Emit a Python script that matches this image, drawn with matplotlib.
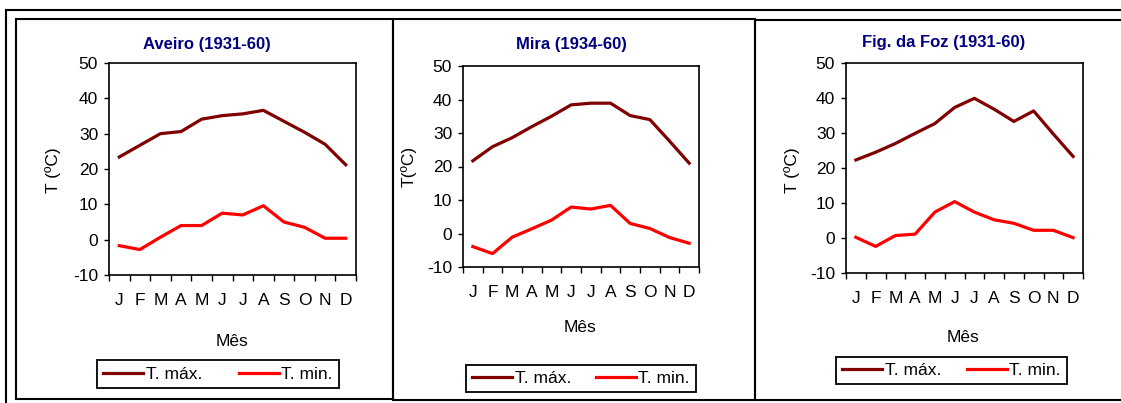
import matplotlib.pyplot as plt
from matplotlib.patches import Rectangle
from matplotlib.lines import Line2D

plt.rcParams['font.family'] = ['Liberation Sans', 'DejaVu Sans']
plt.rcParams['axes.unicode_minus'] = False

W, H = 1121, 403

meses = ['J', 'F', 'M', 'A', 'M', 'J', 'J', 'A', 'S', 'O', 'N', 'D']

aveiro_max = [23.4, 26.7, 30.0, 30.6, 34.1, 35.1, 35.6, 36.6, 33.5, 30.4, 27.0, 21.2]
aveiro_min = [-1.7, -2.8, 0.7, 4.0, 4.0, 7.5, 7.0, 9.6, 5.0, 3.5, 0.4, 0.4]

mira_max = [21.7, 25.9, 28.6, 31.9, 35.0, 38.4, 38.9, 38.9, 35.2, 34.0, 27.6, 21.0]
mira_min = [-3.9, -6.0, -1.1, 1.4, 4.0, 7.9, 7.3, 8.4, 3.0, 1.5, -1.2, -2.9]

foz_max = [22.3, 24.5, 27.0, 29.9, 32.7, 37.3, 39.9, 36.8, 33.3, 36.3, 29.7, 23.3]
foz_min = [0.2, -2.4, 0.7, 1.1, 7.4, 10.4, 7.4, 5.2, 4.2, 2.2, 2.2, 0.1]

titulos = ['Aveiro (1931-60)', 'Mira (1934-60)', 'Fig. da Foz (1931-60)']
ylabels = ['T (ºC)', 'T(ºC)', 'T (ºC)']
series = [(aveiro_max, aveiro_min), (mira_max, mira_min), (foz_max, foz_min)]

# layout in pixels: axes box (left, top, right, bottom), title, ylabel, xlabel, legend box
axes_px = [(109, 63, 356, 275), (463, 66, 699, 267), (846, 63, 1083, 273)]
title_px = [(207, 45), (571, 45), (944, 42)]
ylab_px = [(53, 170), (409, 166), (792, 170)]
xlab_px = [(232, 341), (580, 328), (963, 338)]
leg_px = [(97, 357, 339, 391), (466, 361, 696, 396), (836, 353, 1067, 388)]

FS = 12.5


def fx(x):
    return x / W


def fy(y):
    return 1 - y / H


fig = plt.figure(figsize=(W / 100, H / 100), dpi=100)

# frames
frame_kw = dict(color='black', lw=1.5, transform=fig.transFigure)
fig.add_artist(Line2D([fx(6), fx(W)], [fy(10), fy(10)], **frame_kw))
fig.add_artist(Line2D([fx(6), fx(6)], [fy(10), fy(H)], **frame_kw))
for x0, y0, x1, y1 in [(16, 19, 393, 399), (393, 19, 755, 400), (755, 20, W + 5, 400)]:
    fig.add_artist(Rectangle((fx(x0), fy(y1)), fx(x1 - x0), (y1 - y0) / H,
                             fill=False, ec='black', lw=1.5, transform=fig.transFigure))

x = list(range(12))
for i in range(3):
    l, t, r, b = axes_px[i]
    ax = fig.add_axes([fx(l), fy(b), fx(r - l), (b - t) / H])
    tmax, tmin = series[i]
    ax.plot(x, tmax, color='#800000', lw=2.3, label='T. máx.', solid_joinstyle='round')
    ax.plot(x, tmin, color='#FF0000', lw=2.3, label='T. min.', solid_joinstyle='round')
    ax.set_xlim(-0.5, 11.5)
    ax.set_ylim(-10, 50)
    ax.set_yticks(range(-10, 51, 10))
    ax.set_xticks([k - 0.5 for k in range(13)])
    ax.set_xticklabels([])
    ax.set_xticks(x, minor=True)
    ax.set_xticklabels(meses, minor=True)
    ax.tick_params(axis='x', which='major', direction='out', length=4.5, width=1)
    ax.tick_params(axis='x', which='minor', length=0, pad=13, labelsize=FS)
    ax.tick_params(axis='y', direction='out', length=3.8, width=1, pad=4, labelsize=FS)
    for s in ax.spines.values():
        s.set_linewidth(1.2)
        s.set_color('black')

    fig.text(fx(title_px[i][0]), fy(title_px[i][1]), titulos[i], ha='center', va='center',
             fontsize=12, fontweight='bold', color='#000080')
    fig.text(fx(ylab_px[i][0]), fy(ylab_px[i][1]), ylabels[i], rotation=90,
             ha='center', va='center', fontsize=FS)
    fig.text(fx(xlab_px[i][0]), fy(xlab_px[i][1]), 'Mês', ha='center', va='center', fontsize=FS)

    lx0, ly0, lx1, ly1 = leg_px[i]
    leg = fig.legend(*ax.get_legend_handles_labels(), loc='center', ncol=2, mode='expand',
                     bbox_to_anchor=(fx(lx0), fy(ly1), fx(lx1 - lx0), (ly1 - ly0) / H),
                     borderaxespad=0, fontsize=FS, handlelength=2.3, handletextpad=0.15,
                     columnspacing=1.5, borderpad=0.35, fancybox=False, framealpha=1,
                     edgecolor='black')
    leg.get_frame().set_linewidth(1.3)

fig.savefig('out.png', dpi=100)
